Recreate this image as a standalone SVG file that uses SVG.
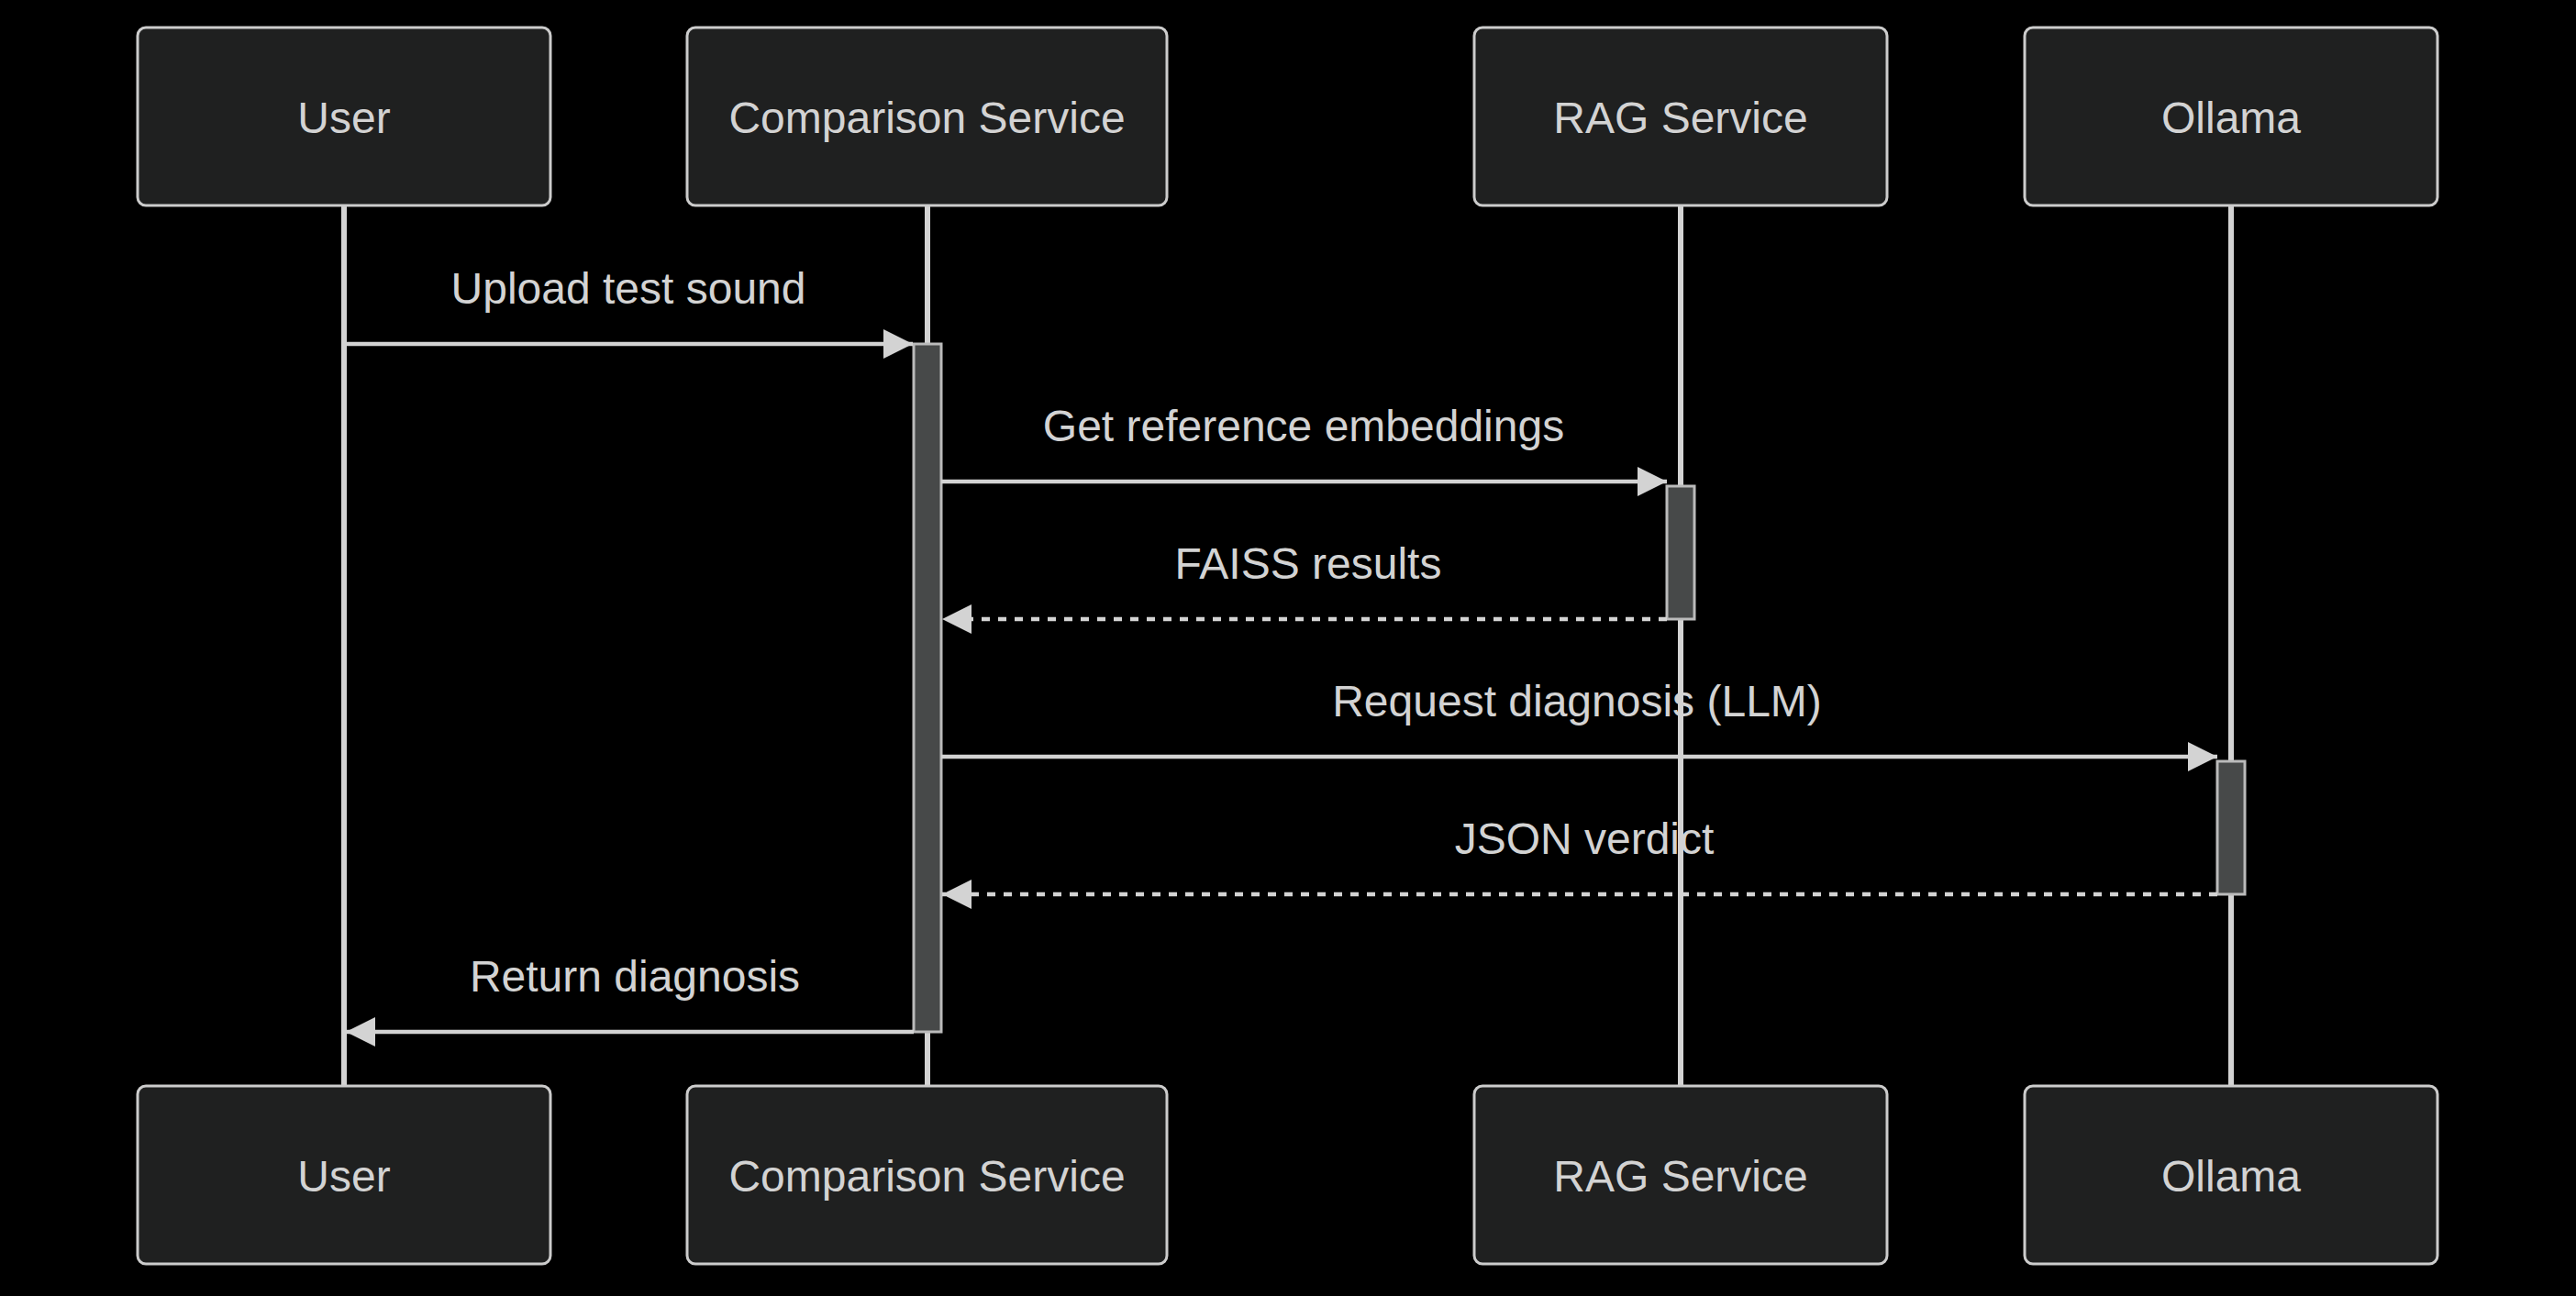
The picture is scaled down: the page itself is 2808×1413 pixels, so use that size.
<svg xmlns="http://www.w3.org/2000/svg" width="2808" height="1413" viewBox="0 0 2808 1413">
<style>
.actor{fill:#1f2020;stroke:#cccccc;stroke-width:3}
.atext{font-family:"Liberation Sans",Arial,sans-serif;font-size:48px;fill:#d3d3d3;text-anchor:middle}
.life{stroke:#d3d3d3;stroke-width:6}
.act{fill:#474949;stroke:#bbbbbb;stroke-width:3}
.msg{stroke:#d3d3d3;stroke-width:4.5;fill:none}
.dot{stroke-dasharray:9,9}
.mtext{font-family:"Liberation Sans",Arial,sans-serif;font-size:48px;fill:#d3d3d3;text-anchor:middle}
</style>
<defs>
<marker id="arrow" markerUnits="userSpaceOnUse" markerWidth="34" markerHeight="34" refX="32" refY="16" orient="auto">
<path d="M0,0 L32,16 L0,32 z" fill="#d3d3d3"/>
</marker>
</defs>
<rect x="0" y="0" width="2808" height="1413" fill="#000000"/>
<g id="lifelines">
<line class="life" x1="375" y1="225" x2="375" y2="1184"/>
<line class="life" x1="1011" y1="225" x2="1011" y2="1184"/>
<line class="life" x1="1832" y1="225" x2="1832" y2="1184"/>
<line class="life" x1="2432" y1="225" x2="2432" y2="1184"/>
</g>
<g id="user-top"><rect class="actor" x="150" y="30" width="450" height="194" rx="9"/><text class="atext" x="375" y="145">User</text></g>
<g id="comparison-top"><rect class="actor" x="749" y="30" width="523" height="194" rx="9"/><text class="atext" x="1010.5" y="145">Comparison Service</text></g>
<g id="rag-top"><rect class="actor" x="1607" y="30" width="450" height="194" rx="9"/><text class="atext" x="1832" y="145">RAG Service</text></g>
<g id="ollama-top"><rect class="actor" x="2207" y="30" width="450" height="194" rx="9"/><text class="atext" x="2432" y="145">Ollama</text></g>
<g id="user-bottom"><rect class="actor" x="150" y="1184" width="450" height="194" rx="9"/><text class="atext" x="375" y="1299">User</text></g>
<g id="comparison-bottom"><rect class="actor" x="749" y="1184" width="523" height="194" rx="9"/><text class="atext" x="1010.5" y="1299">Comparison Service</text></g>
<g id="rag-bottom"><rect class="actor" x="1607" y="1184" width="450" height="194" rx="9"/><text class="atext" x="1832" y="1299">RAG Service</text></g>
<g id="ollama-bottom"><rect class="actor" x="2207" y="1184" width="450" height="194" rx="9"/><text class="atext" x="2432" y="1299">Ollama</text></g>
<g id="activations">
<rect class="act" x="996" y="375" width="30" height="750"/>
<rect class="act" x="1817" y="530" width="30" height="145"/>
<rect class="act" x="2417" y="830" width="30" height="145"/>
</g>
<g id="connectors">
<line class="msg" x1="375" y1="375" x2="995" y2="375" marker-end="url(#arrow)"/>
<text class="mtext" x="685" y="331">Upload test sound</text>
<line class="msg" x1="1026" y1="525" x2="1817" y2="525" marker-end="url(#arrow)"/>
<text class="mtext" x="1421" y="481">Get reference embeddings</text>
<line class="msg dot" x1="1817" y1="675" x2="1027" y2="675" marker-end="url(#arrow)"/>
<text class="mtext" x="1426" y="631">FAISS results</text>
<line class="msg" x1="1026" y1="825" x2="2417" y2="825" marker-end="url(#arrow)"/>
<text class="mtext" x="1719" y="781">Request diagnosis (LLM)</text>
<line class="msg dot" x1="2417" y1="975" x2="1027" y2="975" marker-end="url(#arrow)"/>
<text class="mtext" x="1727" y="931">JSON verdict</text>
<line class="msg" x1="996" y1="1125" x2="377" y2="1125" marker-end="url(#arrow)"/>
<text class="mtext" x="692" y="1081">Return diagnosis</text>
</g>
</svg>
